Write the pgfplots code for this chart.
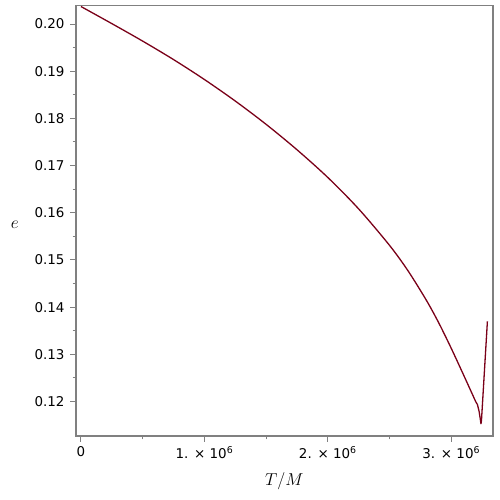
\documentclass[border=0pt]{standalone}
\usepackage{fontspec}
\setmainfont{DejaVu Sans}
\usepackage{pgfplots}
\pgfplotsset{compat=1.18}
\definecolor{maplered}{RGB}{122,0,24}
\definecolor{axgray}{RGB}{128,128,128}
\begin{document}
\begin{tikzpicture}
  % fixed page frame, 1px = 1bp
  \path (-76bp,-64bp) rectangle (424bp,436bp);
  \begin{axis}[
    at = {(0,0)},
    anchor = south west,
    scale only axis,
    width = 416.7bp,
    height = 430.5bp,
    xmin = -0.0405e6, xmax = 3.336e6,
    ymin = 0.11271, ymax = 0.20392,
    axis line style = {axgray, line width=1.7bp},
    tick style = {axgray, line width=1bp},
    tick align = outside,
    major tick length = 5.5bp,
    minor tick length = 3.3bp,
    xtick pos = lower,
    ytick pos = left,
    xtick = {0, 1e6, 2e6, 3e6},
    xticklabels = {0, {1. × 10\textsuperscript{6}}, {2. × 10\textsuperscript{6}}, {3. × 10\textsuperscript{6}}},
    ytick = {0.12, 0.13, 0.14, 0.15, 0.16, 0.17, 0.18, 0.19, 0.20},
    minor x tick num = 1,
    minor y tick num = 1,
    scaled ticks = false,
    yticklabel style = {xshift=-2.5bp, /pgf/number format/.cd, fixed, fixed zerofill, precision=2},
    xticklabel style = {yshift=-1.5bp},
    /pgf/number format/assume math mode = true,
    ticklabel style = {font=\fontsize{13.5}{16}\selectfont, text=black},
    xlabel = {$T/M$},
    ylabel = {$e$},
    label style = {font=\fontsize{19}{22}\selectfont},
    xlabel style = {at={(axis description cs:0.5,-0.1045)}, anchor=center},
    ylabel style = {at={(axis description cs:-0.147,0.49)}, anchor=center, rotate=-90},
    ]
    % main decay
    \addplot [maplered, line width=1.3bp, smooth, tension=0.5] coordinates {
      (0, 0.20370) (0.25e6, 0.20008) (0.5e6, 0.19637) (0.75e6, 0.19246)
      (1.0e6, 0.18824) (1.25e6, 0.18368) (1.5e6, 0.17874) (1.75e6, 0.17336)
      (2.0e6, 0.16748) (2.25e6, 0.16082) (2.5e6, 0.15310) (2.65e6, 0.14770)
      (2.8e6, 0.14140) (2.9e6, 0.13662) (3.0e6, 0.13129) (3.1e6, 0.12564)
      (3.2e6, 0.11989)
    };
    % end: dip and sharp rise
    \addplot [maplered, line width=1.3bp, line join=round] coordinates {
      (3.2e6, 0.11989) (3.212e6, 0.11940) (3.226e6, 0.11790) (3.236e6, 0.11620)
      (3.241e6, 0.11530) (3.245e6, 0.11600) (3.293e6, 0.13700)
    };
  \end{axis}
\end{tikzpicture}
\end{document}
